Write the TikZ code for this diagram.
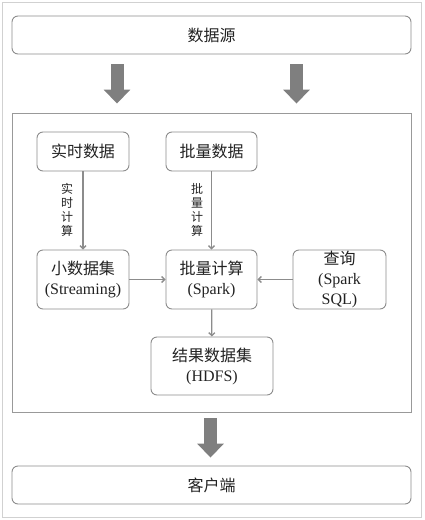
\documentclass[tikz,border=0pt]{standalone}
\usepackage{fontspec}
\setmainfont{Liberation Serif}
\newfontfamily\cjk{Noto Sans CJK SC}
\usetikzlibrary{arrows.meta}
\definecolor{boxline}{HTML}{8C8C8C}
\definecolor{bigfill}{HTML}{7F7F7F}
\definecolor{txt}{HTML}{222222}
\begin{document}
\begin{tikzpicture}[x=1pt,y=-1pt,
  rbox/.style={draw=boxline,line width=0.9pt,rounded corners=6pt,inner sep=0pt,
    text=txt,align=center,font=\fontsize{16}{20}\selectfont},
  wide/.style={rbox,minimum width=399pt,minimum height=38pt},
  conn/.style={draw=boxline,line width=1.3pt,-{Straight Barb[length=3pt,width=6pt]}},
  bigarrow/.style={draw=bigfill,line width=13pt,-{Triangle[width=26pt,length=14pt]}},
  lbl/.style={text=txt,align=center,inner sep=0pt,font=\fontsize{12}{13.75}\selectfont\cjk}]
\useasboundingbox (0,0) rectangle (424,520);
\draw[draw=black!18,line width=1pt] (2,2) rectangle (421,517);
\node[wide] (src) at (211.5,35) {\cjk 数据源};
\node[draw=black!40,line width=0.9pt,minimum width=399pt,minimum height=299pt,inner sep=0pt] (inner) at (211.5,262.5) {};
\node[wide] (client) at (211.5,485) {\cjk 客户端};
\node[rbox,minimum width=92pt,minimum height=39pt] (rt) at (83,151.5) {\cjk 实时数据};
\node[rbox,minimum width=91pt,minimum height=39pt] (bd) at (211.5,151.5) {\cjk 批量数据};
\node[rbox,minimum width=92pt,minimum height=59pt] (small) at (83,279.5) {{\cjk 小数据集}\\(Streaming)};
\node[rbox,minimum width=91pt,minimum height=59pt] (batch) at (211.5,279.5) {{\cjk 批量计算}\\(Spark)};
\node[rbox,minimum width=93pt,minimum height=59pt] (query) at (339.5,279.5) {{\cjk 查询}\\(Spark\\SQL)};
\node[rbox,minimum width=122pt,minimum height=58pt] (res) at (212,366) {{\cjk 结果数据集}\\(HDFS)};
\draw[bigarrow] ([xshift=-94.5pt,yshift=-10pt]src.south) -- ([xshift=-94.5pt,yshift=9pt]inner.north);
\draw[bigarrow] ([xshift=85pt,yshift=-10pt]src.south) -- ([xshift=85pt,yshift=9pt]inner.north);
\draw[bigarrow] ([xshift=-1pt,yshift=-6pt]inner.south) -- ([xshift=-1pt,yshift=8pt]client.north);
\draw[conn] (rt) -- (small);
\draw[conn] (bd) -- (batch);
\draw[conn] (small) -- (batch);
\draw[conn] (query) -- (batch);
\draw[conn] (batch) -- (res);
\node[lbl] (l1) at (67,210) {实\\时\\计\\算};
\node[lbl] (l2) at (197,210) {批\\量\\计\\算};
\end{tikzpicture}
\end{document}
